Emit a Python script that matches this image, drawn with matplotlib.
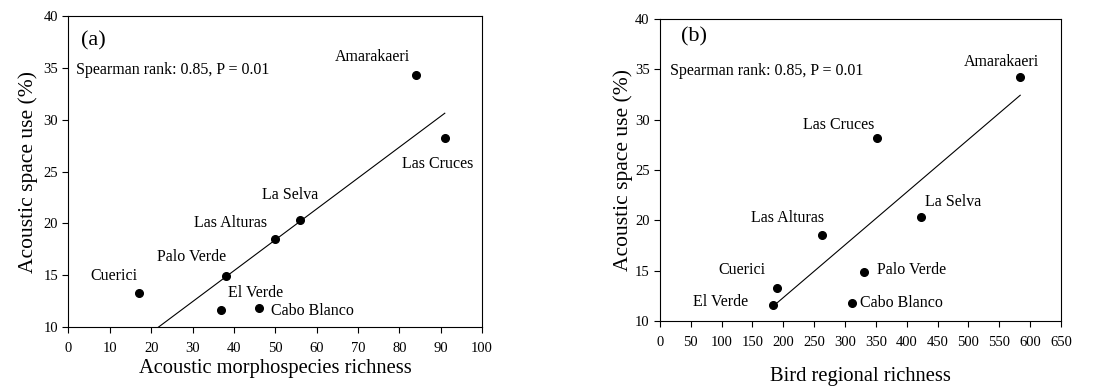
import numpy as np
import matplotlib.pyplot as plt

plt.rcParams['font.family'] = ['Liberation Serif', 'DejaVu Serif']

sites = ['Amarakaeri', 'Las Cruces', 'La Selva', 'Las Alturas',
         'Palo Verde', 'Cuerici', 'El Verde', 'Cabo Blanco']
space_use = [34.3, 28.2, 20.3, 18.5, 14.9, 13.3, 11.6, 11.8]
morpho_richness = [84, 91, 56, 50, 38, 17, 37, 46]
bird_richness = [584, 352, 423, 262, 330, 190, 184, 311]

# label anchor positions (data coords), one per site
labels_a = [(73.4, 36.0), (89.4, 25.7), (53.6, 22.7), (39.2, 20.0),
            (29.8, 16.8), (11.1, 14.9), (45.2, 13.3), (59.0, 11.5)]
labels_b = [(553, 35.7), (290, 29.5), (475, 21.8), (207, 20.2),
            (408, 15.1), (133, 15.1), (99, 11.9), (391, 11.8)]

fig = plt.figure(figsize=(11.15, 3.87), dpi=100)
ax1 = fig.add_axes([0.0614, 0.155, 0.3709, 0.8036])
ax2 = fig.add_axes([0.5919, 0.1705, 0.3596, 0.780])


def panel(ax, x, y, labels, xmax, xstep, letter, letter_xy, spear_xy, xlabel, xpad, ypad):
    x = np.array(x, float)
    y = np.array(y, float)
    ax.plot(x, y, 'o', color='black', markersize=5.5)
    slope, icpt = np.polyfit(x, y, 1)
    xs = np.array([x.min(), x.max()])
    ax.plot(xs, slope * xs + icpt, color='black', lw=0.8)
    for name, (lx, ly) in zip(sites, labels):
        ax.text(lx, ly, name, ha='center', va='center', fontsize=11.5)
    ax.text(*letter_xy, letter, fontsize=16, va='center')
    ax.text(*spear_xy, 'Spearman rank: 0.85, P = 0.01', fontsize=11.5, va='center')
    ax.set_xlim(0, xmax)
    ax.set_ylim(10, 40)
    ax.set_xticks(np.arange(0, xmax + 1, xstep))
    ax.set_yticks(np.arange(10, 41, 5))
    ax.tick_params(direction='out', length=4, width=0.8, labelsize=10.5)
    ax.tick_params(axis='x', pad=7)
    for s in ax.spines.values():
        s.set_linewidth(0.8)
    ax.set_xlabel(xlabel, fontsize=14.8, labelpad=xpad)
    ax.set_ylabel('Acoustic space use (%)', fontsize=15.5, labelpad=ypad)


panel(ax1, morpho_richness, space_use, labels_a, 100, 10, '(a)', (3.0, 37.6),
      (1.9, 34.8), 'Acoustic morphospecies richness', 3, 4)
panel(ax2, bird_richness, space_use, labels_b, 650, 50, '(b)', (34, 38.2),
      (17, 34.8), 'Bird regional richness', 13, 1)

fig.savefig('out.png', dpi=100)
